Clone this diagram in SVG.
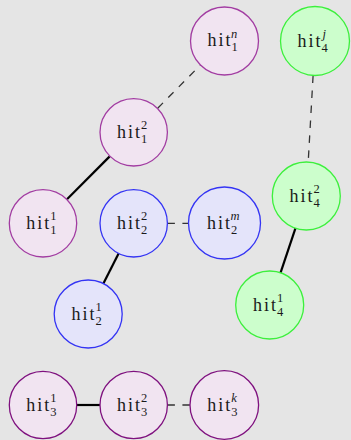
<svg xmlns="http://www.w3.org/2000/svg" width="351" height="440" viewBox="0 0 351 440">
  <style>
    .hit { font-family: "Liberation Serif", "Times New Roman", serif; font-size: 18px; fill: #1a1a1a; }
    .scr { font-family: "Liberation Serif", "Times New Roman", serif; font-size: 12.5px; fill: #1a1a1a; }
    .it { font-style: italic; }
    .p1 { fill: #f1e4f1; stroke: #a23ca2; stroke-width: 1.3; }
    .p3 { fill: #f1e4f1; stroke: #7f117f; stroke-width: 1.3; }
    .bl { fill: #e4e4fa; stroke: #3434f4; stroke-width: 1.3; }
    .gr { fill: #ccfecc; stroke: #3cf03c; stroke-width: 1.3; }
    .solid { stroke: #000; stroke-width: 2.2; fill: none; }
    .dash { stroke: #333; stroke-width: 1.3; fill: none; stroke-dasharray: 7.5 7.5; }
  </style>
  <rect x="0" y="0" width="351" height="440" fill="#e5e5e5"/>

  <g id="links">
    <line class="solid" x1="67" y1="199.2" x2="109.7" y2="156.4"/>
    <line class="dash" x1="157.7" y1="108.2" x2="200.5" y2="65"/>
    <line class="dash" x1="313.1" y1="75.5" x2="308.2" y2="162"/>
    <line class="solid" x1="295.5" y1="228.2" x2="280.5" y2="272.8"/>
    <line class="solid" x1="118.6" y1="253.5" x2="103.4" y2="283.6"/>
    <line class="dash" x1="167.4" y1="223.3" x2="188.5" y2="223.3"/>
    <line class="solid" x1="76.7" y1="405" x2="100" y2="405"/>
    <line class="dash" x1="167.4" y1="405" x2="190" y2="405"/>
  </g>

  <g id="hit1n">
    <circle class="p1" cx="224.5" cy="41" r="34"/>
    <text class="hit" x="230.5" y="45.5" text-anchor="end" textLength="23" lengthAdjust="spacing">hit</text>
    <text class="scr it" x="231" y="37.5">n</text>
    <text class="scr" x="231.5" y="51">1</text>
  </g>

  <g id="hit4j">
    <circle class="gr" cx="315" cy="41" r="34.5"/>
    <text class="hit" x="320.5" y="46.5" text-anchor="end" textLength="23" lengthAdjust="spacing">hit</text>
    <text class="scr it" x="322.5" y="37.5">j</text>
    <text class="scr" x="321.5" y="52">4</text>
  </g>

  <g id="hit12">
    <circle class="p1" cx="133.7" cy="132.3" r="33.7"/>
    <text class="hit" x="140" y="138.3" text-anchor="end" textLength="23" lengthAdjust="spacing">hit</text>
    <text class="scr" x="141" y="129">2</text>
    <text class="scr" x="141" y="143.3">1</text>
  </g>

  <g id="hit11">
    <circle class="p1" cx="43" cy="223.3" r="33.7"/>
    <text class="hit" x="49.3" y="229.3" text-anchor="end" textLength="23" lengthAdjust="spacing">hit</text>
    <text class="scr" x="50.3" y="220">1</text>
    <text class="scr" x="50.3" y="234.3">1</text>
  </g>

  <g id="hit22">
    <circle class="bl" cx="133.7" cy="223.3" r="33.7"/>
    <text class="hit" x="140" y="229.3" text-anchor="end" textLength="23" lengthAdjust="spacing">hit</text>
    <text class="scr" x="141" y="220">2</text>
    <text class="scr" x="141" y="234.3">2</text>
  </g>

  <g id="hit2m">
    <circle class="bl" cx="224.5" cy="223" r="36"/>
    <text class="hit" x="230" y="229" text-anchor="end" textLength="23" lengthAdjust="spacing">hit</text>
    <text class="scr it" x="230.5" y="220">m</text>
    <text class="scr" x="231" y="234.3">2</text>
  </g>

  <g id="hit42">
    <circle class="gr" cx="306.3" cy="196" r="34"/>
    <text class="hit" x="312.6" y="202" text-anchor="end" textLength="23" lengthAdjust="spacing">hit</text>
    <text class="scr" x="313.6" y="192.7">2</text>
    <text class="scr" x="313.6" y="207">4</text>
  </g>

  <g id="hit21">
    <circle class="bl" cx="88.2" cy="314" r="34"/>
    <text class="hit" x="94.5" y="320" text-anchor="end" textLength="23" lengthAdjust="spacing">hit</text>
    <text class="scr" x="95.5" y="310.7">1</text>
    <text class="scr" x="95.5" y="325">2</text>
  </g>

  <g id="hit41">
    <circle class="gr" cx="269.7" cy="305" r="34"/>
    <text class="hit" x="276" y="311" text-anchor="end" textLength="23" lengthAdjust="spacing">hit</text>
    <text class="scr" x="277" y="301.7">1</text>
    <text class="scr" x="277" y="316">4</text>
  </g>

  <g id="hit31">
    <circle class="p3" cx="43" cy="405" r="33.7"/>
    <text class="hit" x="49.3" y="411" text-anchor="end" textLength="23" lengthAdjust="spacing">hit</text>
    <text class="scr" x="50.3" y="401.7">1</text>
    <text class="scr" x="50.3" y="416">3</text>
  </g>

  <g id="hit32">
    <circle class="p3" cx="133.7" cy="405" r="33.7"/>
    <text class="hit" x="140" y="411" text-anchor="end" textLength="23" lengthAdjust="spacing">hit</text>
    <text class="scr" x="141" y="401.7">2</text>
    <text class="scr" x="141" y="416">3</text>
  </g>

  <g id="hit3k">
    <circle class="p3" cx="224.3" cy="405" r="34.3"/>
    <text class="hit" x="230.3" y="411" text-anchor="end" textLength="23" lengthAdjust="spacing">hit</text>
    <text class="scr it" x="231.3" y="401.7">k</text>
    <text class="scr" x="231.3" y="416">3</text>
  </g>
</svg>
